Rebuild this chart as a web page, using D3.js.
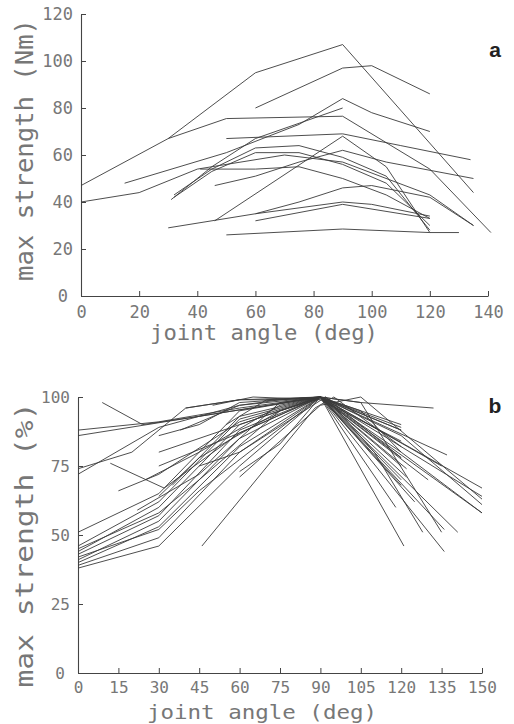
<!DOCTYPE html>
<meta charset="utf-8">
<script src="https://d3js.org/d3.v7.min.js"></script>
<style>
  body { margin: 0; background: #fff; }
</style>
<div id="chart"></div>
<script>

// ---- data: panel a, absolute strength (Nm) vs joint angle (deg)
const xTicksA = [0, 20, 40, 60, 80, 100, 120, 140];
const yTicksA = [0, 20, 40, 60, 80, 100, 120];
const seriesA = [
  [[0, 47], [30, 67], [60, 95], [90, 107], [135, 44]],
  [[60, 80], [90, 97], [100, 98], [120, 86]],
  [[15, 48], [50, 61], [75, 73], [90, 84], [100, 78], [120, 70]],
  [[31, 41], [45, 55], [60, 67], [90, 80]],
  [[30, 67], [50, 75.5], [90, 76.5], [120, 54], [141, 27]],
  [[50, 67], [90, 69], [110, 64], [134, 58]],
  [[32, 43], [45, 54], [60, 63], [75, 64], [90, 59], [105, 51], [120, 28]],
  [[32, 42], [45, 53], [60, 61], [75, 61], [90, 56], [105, 48], [120, 30]],
  [[41, 54], [60, 54], [75, 55], [90, 50], [105, 43], [120, 33]],
  [[46, 47], [60, 51], [75, 57], [90, 62], [105, 57], [135, 50]],
  [[46, 32], [90, 68], [105, 55], [120, 27]],
  [[0, 40], [20, 44], [40, 54], [70, 60], [90, 57], [120, 43], [135, 30]],
  [[30, 29], [60, 35], [75, 40], [90, 46], [100, 47], [120, 42], [135, 30]],
  [[60, 35], [90, 40], [100, 39], [120, 34]],
  [[60, 32], [90, 39], [120, 33]],
  [[50, 26], [90, 28.5], [120, 27], [130, 27]]
];

// ---- data: panel b, relative strength (%) vs joint angle (deg)
const xTicksB = [0, 15, 30, 45, 60, 75, 90, 105, 120, 135, 150];
const yTicksB = [0, 25, 50, 75, 100];
const seriesB = [
  [[0, 38], [30, 46], [60, 75], [90, 100], [120, 70]],
  [[0, 40], [30, 53], [60, 82], [90, 100], [105, 98], [135, 51]],
  [[0, 41], [30, 55], [60, 85], [90, 100], [120, 80], [150, 58]],
  [[0, 43], [30, 57], [60, 88], [90, 100], [120, 75]],
  [[0, 44], [30, 60], [60, 90], [90, 100], [136, 44]],
  [[0, 46], [30, 62], [60, 92], [90, 100], [120, 86], [150, 61]],
  [[0, 51], [30, 65], [60, 95], [90, 100], [121, 46]],
  [[0, 42], [30, 52], [45, 66], [90, 100], [141, 51]],
  [[0, 39], [30, 49], [60, 80], [92, 100], [120, 78]],
  [[0, 88], [30, 91], [60, 96], [90, 100], [150, 64]],
  [[0, 86], [45, 93], [90, 100], [150, 67]],
  [[0, 74], [20, 80], [40, 96], [60, 99], [90, 100], [137, 79]],
  [[0, 72], [30, 89], [60, 97], [90, 100], [122, 71]],
  [[9, 98], [24, 90], [45, 93], [90, 100], [105, 98], [132, 96]],
  [[12, 76], [32, 67], [60, 87], [90, 100], [122, 74]],
  [[46, 46], [88, 96], [95, 100], [120, 82]],
  [[22, 59], [45, 72], [75, 98], [90, 100], [120, 88]],
  [[25, 70], [45, 80], [75, 97], [90, 100], [118, 60]],
  [[30, 80], [60, 90], [90, 100], [120, 89]],
  [[45, 75], [60, 80], [90, 100], [125, 62]],
  [[30, 86], [45, 90], [60, 98], [90, 100], [135, 75]],
  [[38, 88], [60, 97], [75, 99], [90, 100], [120, 90]],
  [[60, 73], [75, 83], [90, 100], [120, 78]],
  [[30, 75], [60, 87], [90, 100], [105, 95], [120, 80]],
  [[35, 68], [60, 93], [90, 100], [136, 52]],
  [[40, 96], [60, 99], [75, 99], [90, 100], [120, 88]],
  [[50, 97], [65, 100], [90, 99], [120, 84]],
  [[55, 90], [70, 99], [90, 100], [130, 70]],
  [[30, 64], [45, 78], [75, 95], [90, 100], [150, 58]],
  [[15, 66], [30, 72], [60, 91], [90, 100], [120, 68]],
  [[0, 45], [30, 58], [45, 70], [75, 95], [92, 100], [110, 80], [128, 51]],
  [[60, 71], [90, 97], [105, 100], [150, 63]]
];

const W = 514, H = 724;
const svg = d3.select("#chart").append("svg")
  .attr("width", W)
  .attr("height", H);

const tickFont = "'DejaVu Sans Mono', monospace";
const textColor = "#777";

function panel(opts) {
  const x = d3.scaleLinear().domain(opts.xDomain).range(opts.xRange);
  const y = d3.scaleLinear().domain(opts.yDomain).range(opts.yRange);

  // x axis, ticks pointing up into the plot
  const gx = svg.append("g")
    .attr("transform", `translate(0,${opts.yRange[0]})`)
    .call(d3.axisBottom(x).tickValues(opts.xTicks).tickSizeInner(-5).tickSizeOuter(0).tickPadding(opts.xPad));

  // y axis, ticks pointing right into the plot
  const gy = svg.append("g")
    .attr("transform", `translate(${opts.xRange[0]},0)`)
    .call(d3.axisLeft(y).tickValues(opts.yTicks).tickSizeInner(-5).tickSizeOuter(0).tickPadding(8));

  [gx, gy].forEach(g => {
    g.selectAll("path.domain").attr("stroke", "#444").attr("stroke-width", 1.1);
    g.selectAll(".tick line").attr("stroke", "#444");
    g.selectAll(".tick text")
      .style("font-family", tickFont)
      .style("font-size", opts.tickSize + "px")
      .attr("fill", textColor);
  });
  gy.selectAll(".tick")
    .filter(d => d === 0)
    .select("text")
    .attr("dx", -5);

  // the lines
  const line = d3.line()
    .x(d => x(d[0]))
    .y(d => y(d[1]));

  svg.append("g")
    .selectAll("path")
    .data(opts.series)
    .join("path")
    .attr("d", line)
    .attr("fill", "none")
    .attr("stroke", "#3a3a3a")
    .attr("stroke-width", 0.9);

  // axis titles
  svg.append("text")
    .attr("x", opts.xTitle.x)
    .attr("y", opts.xTitle.y)
    .attr("text-anchor", "middle")
    .attr("textLength", opts.xTitle.len)
    .attr("lengthAdjust", "spacingAndGlyphs")
    .style("font-family", tickFont)
    .style("font-size", opts.xTitle.size + "px")
    .attr("fill", textColor)
    .text("joint angle (deg)");

  svg.append("text")
    .attr("transform", `translate(${opts.yTitle.x},${opts.yTitle.y}) rotate(-90)`)
    .attr("text-anchor", "middle")
    .attr("textLength", opts.yTitle.len)
    .attr("lengthAdjust", "spacingAndGlyphs")
    .style("font-family", tickFont)
    .style("font-size", "24px")
    .attr("fill", textColor)
    .text(opts.yTitle.text);

  // panel letter
  svg.append("text")
    .attr("x", 495)
    .attr("y", opts.letterY)
    .attr("text-anchor", "middle")
    .style("font-family", "'Liberation Sans', Arial, sans-serif")
    .style("font-weight", "bold")
    .style("font-size", "21px")
    .attr("fill", "#222")
    .text(opts.letter);
}

panel({
  xDomain: [0, 140], xRange: [81, 488],
  yDomain: [0, 120], yRange: [296, 14],
  xTicks: xTicksA, yTicks: yTicksA,
  xPad: 10, tickSize: 17,
  series: seriesA,
  xTitle: { x: 264, y: 340, len: 228, size: 21 },
  yTitle: { x: 33, y: 150, len: 262, text: "max strength (Nm)" },
  letter: "a", letterY: 57
});

panel({
  xDomain: [0, 150], xRange: [78, 482],
  yDomain: [0, 100], yRange: [673, 397],
  xTicks: xTicksB, yTicks: yTicksB,
  xPad: 9, tickSize: 16,
  series: seriesB,
  xTitle: { x: 262, y: 719, len: 230, size: 20 },
  yTitle: { x: 33, y: 545, len: 285, text: "max strength (%)" },
  letter: "b", letterY: 413
});

</script>
